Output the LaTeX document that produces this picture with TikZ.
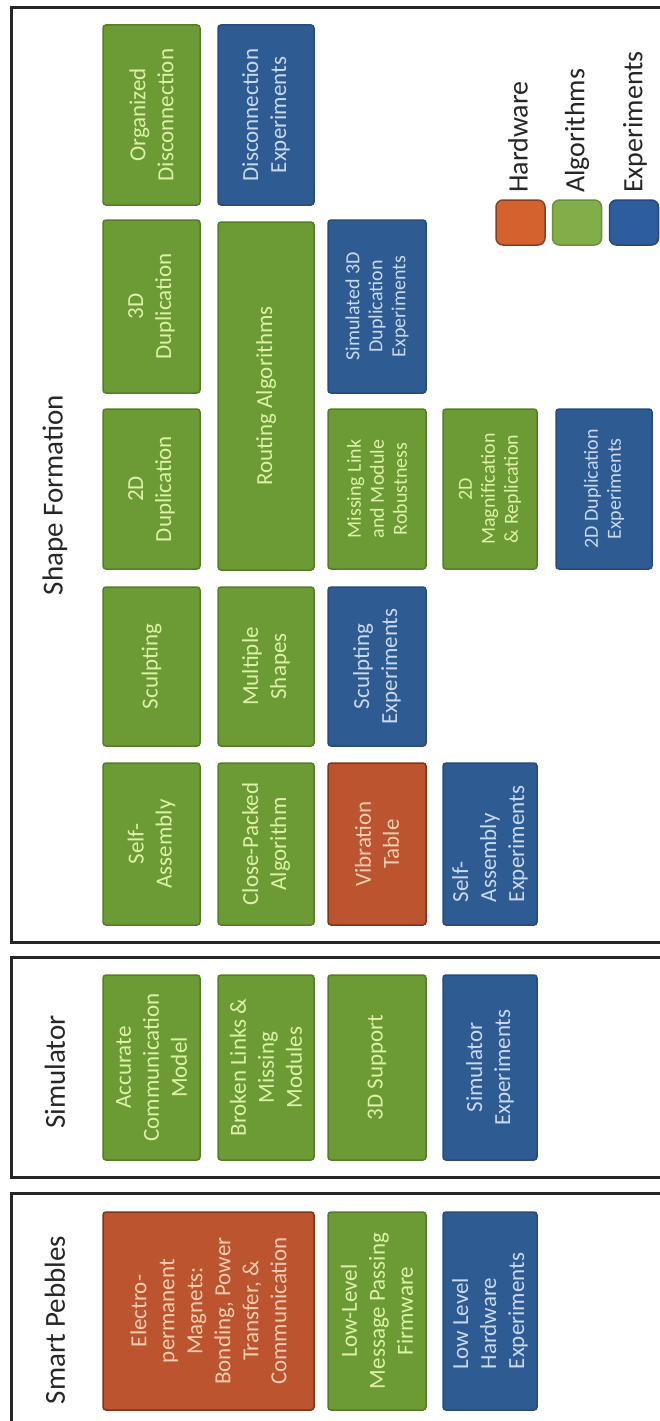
\documentclass[tikz,border=0pt]{standalone}
\usepackage{fontspec}
\setmainfont{Carlito}
\definecolor{hwfill}{HTML}{BC5430}
\definecolor{hwdraw}{HTML}{7E3519}
\definecolor{hwtext}{HTML}{F7CDB2}
\definecolor{alfill}{HTML}{6C9A34}
\definecolor{aldraw}{HTML}{557D27}
\definecolor{altext}{HTML}{DDF2A8}
\definecolor{exfill}{HTML}{2F5B93}
\definecolor{exdraw}{HTML}{264B7C}
\definecolor{extext}{HTML}{C9D9EF}
\definecolor{lhwfill}{HTML}{D3622F}
\definecolor{lhwdraw}{HTML}{8B3B1E}
\definecolor{lalfill}{HTML}{82AE4A}
\definecolor{laldraw}{HTML}{6A8E3A}
\definecolor{lexfill}{HTML}{2E5D9E}
\definecolor{lexdraw}{HTML}{234A80}
\tikzset{
  panel/.style={draw=black!85, line width=3pt},
  ptitle/.style={rotate=90, font=\fontsize{29}{34}\selectfont, text=black!85},
  pbox/.style={rounded corners=3pt, line width=1.5pt, rotate=90, align=center, inner sep=2pt,
    font=\fontsize{23}{28}\selectfont},
  small/.style={font=\fontsize{20}{23}\selectfont},
  hw/.style={pbox, fill=hwfill, draw=hwdraw, text=hwtext},
  al/.style={pbox, fill=alfill, draw=aldraw, text=altext},
  ex/.style={pbox, fill=exfill, draw=exdraw, text=extext},
  bx/.style 2 args={minimum width=#1pt, minimum height=#2pt},
  legbox/.style={rounded corners=7pt, line width=1.5pt, minimum width=49pt, minimum height=45pt},
  legtext/.style={rotate=90, anchor=west, font=\fontsize{28}{32}\selectfont, text=black!85, inner sep=0pt}
}
\begin{document}
\begin{tikzpicture}[x=1pt,y=-1pt]
\useasboundingbox (0,0) rectangle (660,1421);
\clip (0,0) rectangle (660,1421);
\fill[white] (0,0) rectangle (660,1421);
% panels
\draw[panel] (11,8) rectangle (720,942);
\draw[panel] (11,957) rectangle (720,1177);
\draw[panel] (11,1193) rectangle (720,1460);
% titles
\node[ptitle] (tsf) at (55,495) {Shape Formation};
\node[ptitle] (tsim) at (55,1072) {Simulator};
\node[ptitle] (tsp) at (55,1320) {Smart Pebbles};
% Smart Pebbles
\node[hw, bx={198}{211}] (em) at (208.5,1311) {Electro-\\permanent\\Magnets:\\Bonding, Power\\Transfer, \&\\Communication};
\node[al, bx={198}{98}] (fw) at (377,1311) {Low-Level\\Message Passing\\Firmware};
\node[ex, bx={198}{94}, align=left] (hwexp) at (490,1311) {Low Level\\Hardware\\Experiments};
% Simulator
\node[al, bx={185}{97}] (acm) at (151.5,1067.5) {Accurate\\Communication\\Model};
\node[al, bx={185}{96}] (blm) at (266,1067.5) {Broken Links \&\\Missing\\Modules};
\node[al, bx={185}{98}] (s3d) at (377,1067.5) {3D Support};
\node[ex, bx={185}{94}] (sexp) at (490,1067.5) {Simulator\\Experiments};
% Shape Formation row A
\node[al, bx={180}{97}] (od) at (151.5,115) {Organized\\Disconnection};
\node[ex, bx={180}{96}] (dexp) at (266,115) {Disconnection\\Experiments};
% row B
\node[al, bx={173}{97}] (d3) at (151.5,306.5) {3D\\Duplication};
\node[al, bx={348}{96}] (ra) at (266,396) {Routing Algorithms};
\node[ex, small, bx={173}{98}] (sim3) at (377,306.5) {Simulated 3D\\Duplication\\Experiments};
% row C
\node[al, bx={160}{97}] (d2) at (151.5,489) {2D\\Duplication};
\node[al, small, bx={160}{98}] (ml) at (377,489) {Missing Link\\and Module\\Robustness};
\node[al, small, bx={160}{94}] (mag) at (490,489) {2D\\Magnification\\\& Replication};
\node[ex, small, bx={160}{96}] (d2exp) at (604,489) {2D Duplication\\Experiments};
% row D
\node[al, bx={159}{97}] (sc) at (151.5,666.5) {Sculpting};
\node[al, bx={159}{96}] (mul) at (266,666.5) {Multiple\\Shapes};
\node[ex, bx={159}{98}] (scexp) at (377,666.5) {Sculpting\\Experiments};
% row E
\node[al, bx={162}{97}] (sa) at (151.5,844) {Self-\\Assembly};
\node[al, bx={162}{96}] (cp) at (266,844) {Close-Packed\\Algorithm};
\node[hw, bx={162}{98}] (vt) at (377,844) {Vibration\\Table};
\node[ex, bx={162}{94}, align=left] (saexp) at (490,844) {Self-\\Assembly\\Experiments};
% legend
\node[legbox, fill=lhwfill, draw=lhwdraw] (lhw) at (520.5,222.5) {};
\node[legbox, fill=lalfill, draw=laldraw] (lal) at (577,222.5) {};
\node[legbox, fill=lexfill, draw=lexdraw] (lex) at (634,222.5) {};
\node[legtext] (lhwt) at (518,193) {Hardware};
\node[legtext] (lalt) at (577,193) {Algorithms};
\node[legtext] (lext) at (635,193) {Experiments};
\end{tikzpicture}
\end{document}
